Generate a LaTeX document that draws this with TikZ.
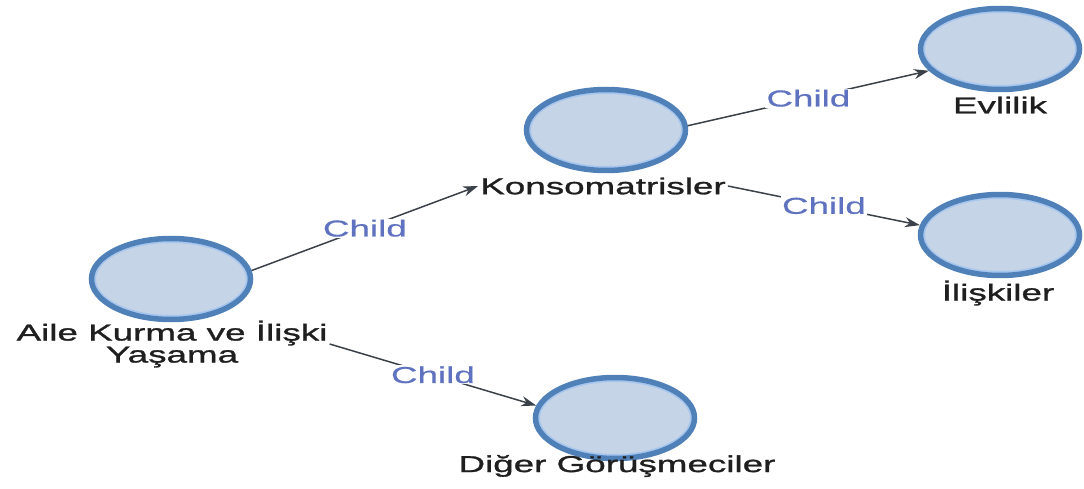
\documentclass[tikz,border=0pt]{standalone}
\usepackage{fontspec}
\newfontfamily\lab[FakeStretch=1.6,FakeBold=1.2]{Liberation Sans}
\newfontfamily\elb[FakeStretch=1.6,FakeBold=0.6]{Liberation Sans}
\usetikzlibrary{shapes.geometric,arrows.meta}
\definecolor{nfill}{HTML}{C6D4E8}
\definecolor{nring}{HTML}{5080B8}
\definecolor{nlight}{HTML}{A6C6EE}
\definecolor{elab}{HTML}{5F72C0}
\definecolor{edge}{HTML}{3A4148}
\begin{document}
\begin{tikzpicture}[x=1pt,y=-1pt,
  topic/.style={ellipse, draw=nring, fill=nfill, line width=5.5pt, minimum width=159pt, minimum height=81pt, inner sep=0pt,
    path picture={\draw[nlight, line width=2pt] (path picture bounding box.center) ellipse [x radius=76pt, y radius=37pt];}},
  toplabel/.style={font=\lab\fontsize{23}{22}\selectfont, text=black!88, inner sep=2pt, align=center},
  rel/.style={draw=edge, line width=1.5pt, -{Stealth[length=15pt,width=10pt]}},
  elabel/.style={font=\elb\fontsize{23}{22}\selectfont, text=elab, fill=white, inner sep=1pt}]
\useasboundingbox (0,0) rectangle (1084,489);
\node[topic] (aile) at (171,279) {};
\node[toplabel] (ailel) at (172,344) {Aile Kurma ve İlişki\\Yaşama};
\node[topic] (kons) at (606,130) {};
\node[toplabel] (konsl) at (603,186) {Konsomatrisler};
\node[topic] (evl) at (1000,49) {};
\node[toplabel] (evll) at (1000,105) {Evlilik};
\node[topic] (ilis) at (1000,235) {};
\node[toplabel] (ilisl) at (998,293) {İlişkiler};
\node[topic] (diger) at (615,418) {};
\node[toplabel] (digerl) at (617,466) {Diğer Görüşmeciler};
\draw[rel] (aile.6) -- node[elabel] {Child} (konsl.west);
\draw[rel] (kons.3) -- node[elabel] {Child} (evl.197);
\draw[rel] (konsl.east) -- node[elabel] {Child} (ilis.173);
\draw[rel] (ailel.east) -- node[elabel] {Child} (diger.171);
\end{tikzpicture}
\end{document}
